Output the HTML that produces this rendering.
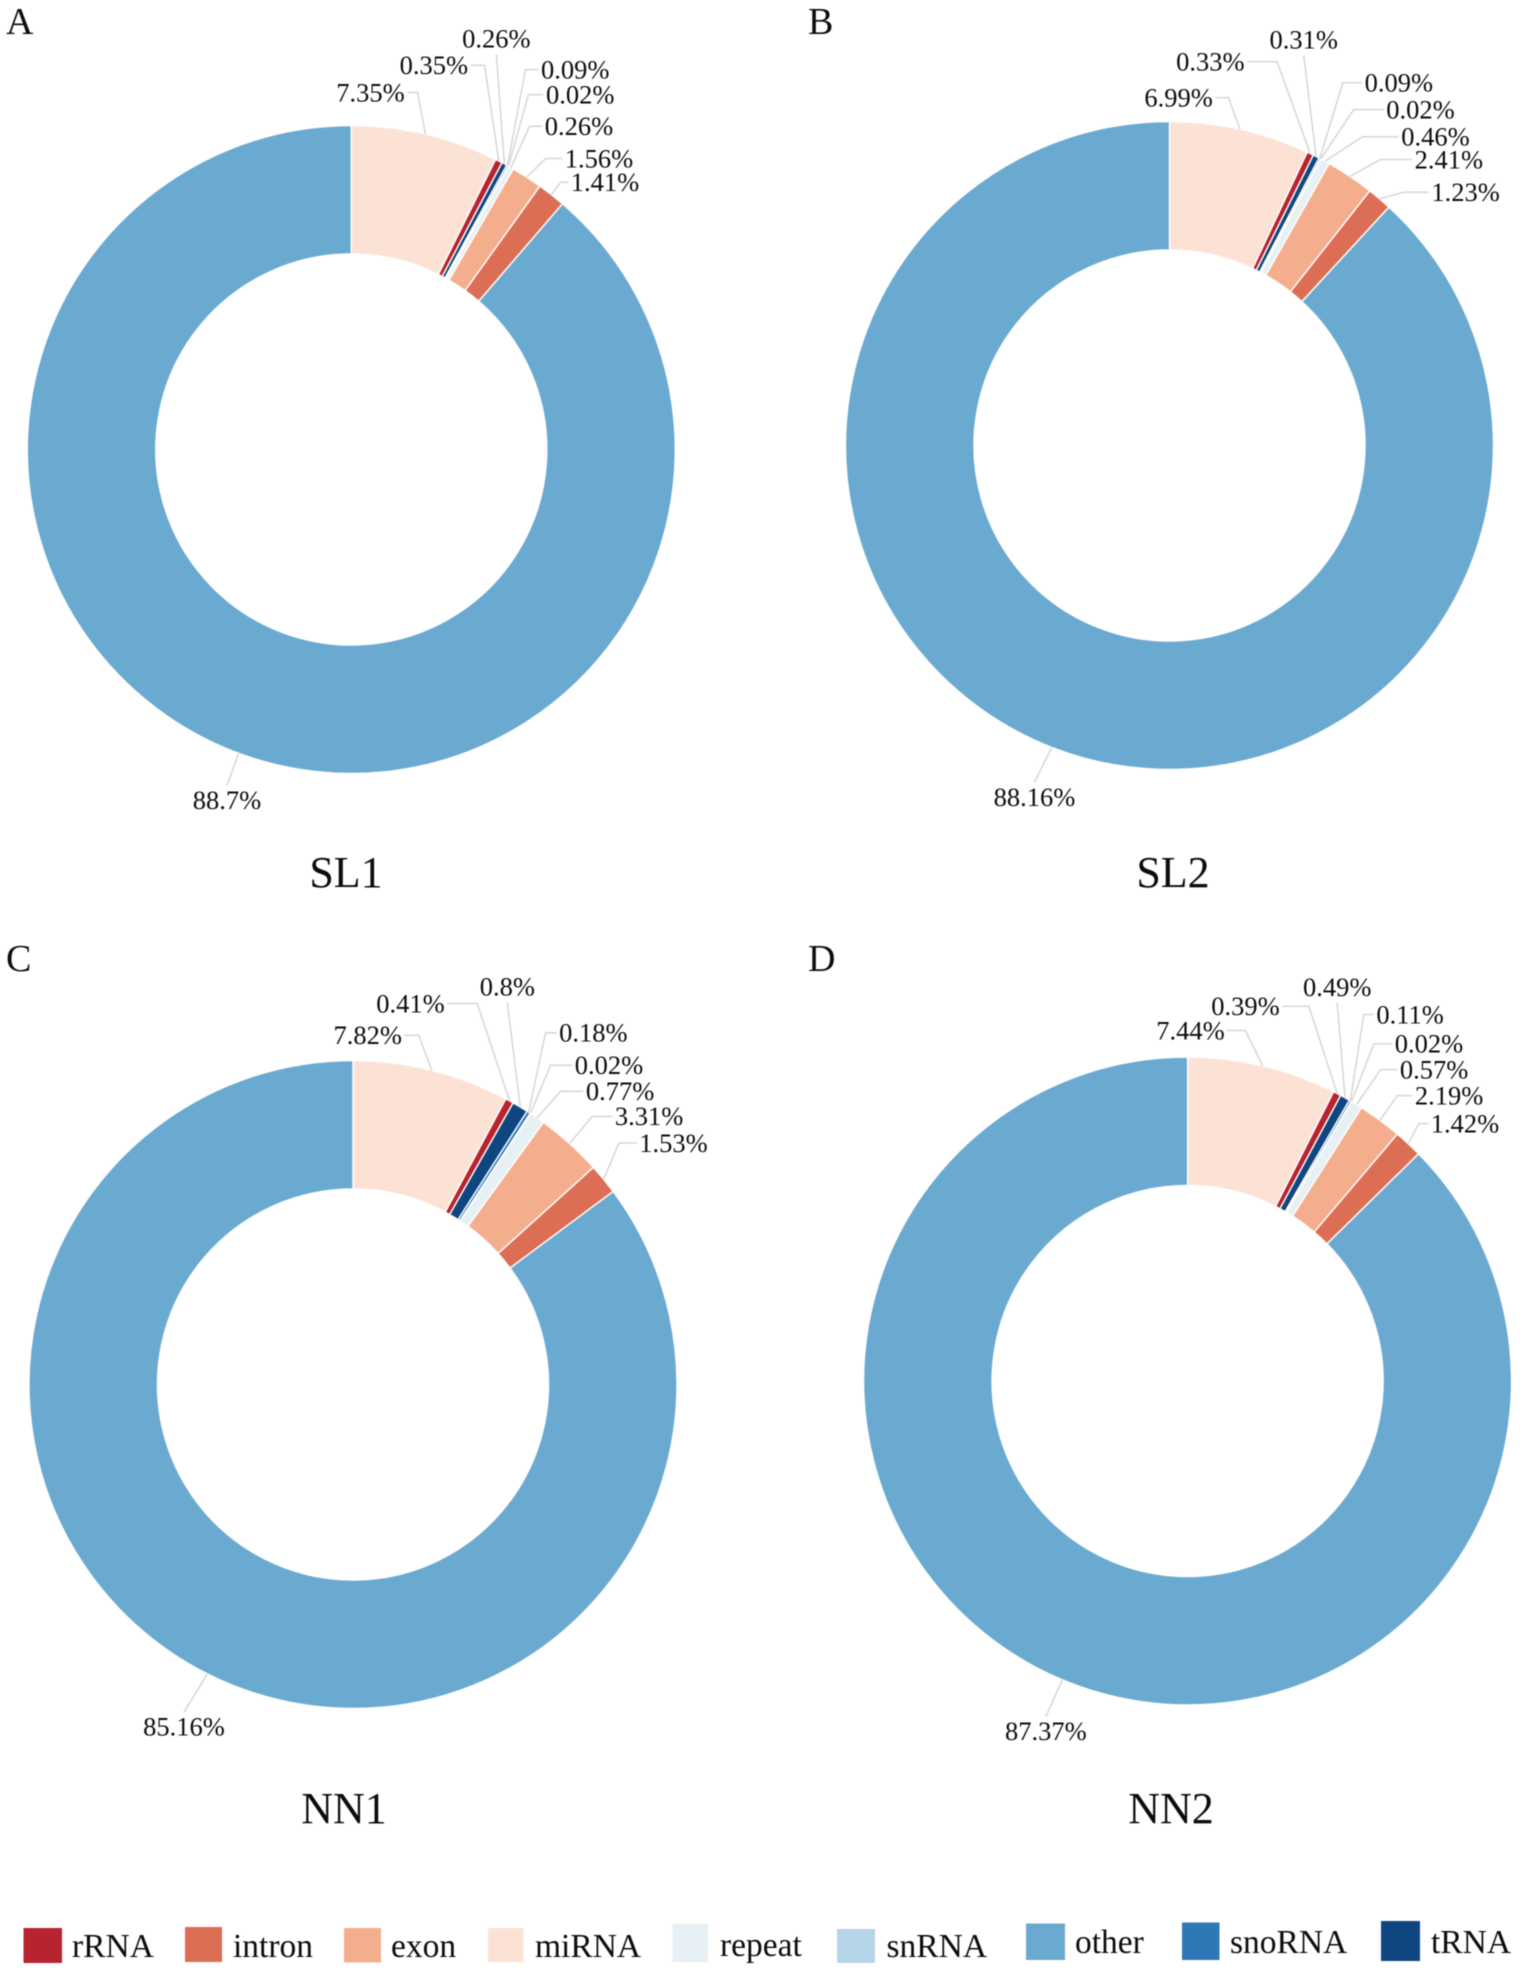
<!DOCTYPE html>
<html lang="en">
<head>
<meta charset="utf-8">
<title>Small RNA composition donut charts</title>
<style>
html,body{margin:0;padding:0;background:#fff}
svg{display:block;filter:blur(0.5px)}
text{font-family:"Liberation Serif","Times New Roman",serif;fill:#0c0c0c}
.pct{font-size:26.5px}
.panel{font-size:38px}
.sample{font-size:44px}
.lg{font-size:33.5px}
</style>
</head>
<body>
<svg id="figure" width="1535" height="1971" viewBox="0 0 1535 1971" xmlns="http://www.w3.org/2000/svg">
<rect width="1535" height="1971" fill="#ffffff"/>
<text class="panel" x="6" y="34">A</text>
<text class="panel" x="808" y="34">B</text>
<text class="panel" x="6" y="971">C</text>
<text class="panel" x="808" y="971">D</text>
<text class="sample" x="346" y="887" text-anchor="middle">SL1</text>
<text class="sample" x="1173" y="887" text-anchor="middle">SL2</text>
<text class="sample" x="344" y="1823" text-anchor="middle">NN1</text>
<text class="sample" x="1171" y="1823" text-anchor="middle">NN2</text>
<g id="charts"></g>
<g>
  <g><rect x="23.5" y="1928" width="38.5" height="35" fill="#b7232e"/><text class="lg" x="72" y="1957">rRNA</text></g>
  <g><rect x="185" y="1927" width="37" height="35" fill="#dc6e55"/><text class="lg" x="233" y="1957">intron</text></g>
  <g><rect x="344" y="1928" width="37" height="34.5" fill="#f5ae8d"/><text class="lg" x="391" y="1957">exon</text></g>
  <g><rect x="488" y="1928" width="35.5" height="34" fill="#fce2d5"/><text class="lg" x="535" y="1957">miRNA</text></g>
  <g><rect x="672.5" y="1924" width="35.5" height="38" fill="#e7f0f4"/><text class="lg" x="720" y="1956">repeat</text></g>
  <g><rect x="837" y="1929" width="38" height="34" fill="#b4d6e8"/><text class="lg" x="886.5" y="1957">snRNA</text></g>
  <g><rect x="1026" y="1923.5" width="39" height="36.5" fill="#6baad0"/><text class="lg" x="1075" y="1953">other</text></g>
  <g><rect x="1182" y="1922.5" width="37.5" height="37.5" fill="#2f78b6"/><text class="lg" x="1230" y="1953">snoRNA</text></g>
  <g><rect x="1381" y="1921" width="39" height="40" fill="#10467f"/><text class="lg" x="1431" y="1953">tRNA</text></g>
</g>
</svg>
<script>
// Slice order is clockwise from 12 o'clock.
const categories = ['miRNA', 'rRNA', 'tRNA', 'snoRNA', 'snRNA', 'repeat', 'exon', 'intron', 'other'];
const sl1Values = [7.35, 0.35, 0.26, 0.09, 0.02, 0.26, 1.56, 1.41, 88.7];
const sl2Values = [6.99, 0.33, 0.31, 0.09, 0.02, 0.46, 2.41, 1.23, 88.16];
const nn1Values = [7.82, 0.41, 0.8, 0.18, 0.02, 0.77, 3.31, 1.53, 85.16];
const nn2Values = [7.44, 0.39, 0.49, 0.11, 0.02, 0.57, 2.19, 1.42, 87.37];

const sliceColors = {miRNA:'#fce2d5', rRNA:'#b7232e', tRNA:'#10467f', snoRNA:'#2f78b6', snRNA:'#b4d6e8', repeat:'#e7f0f4', exon:'#f5ae8d', intron:'#dc6e55', other:'#6baad0'};

// Leader-line layout, relative to each slice's outer mid-point: [elbow dx, elbow dy, horizontal tail, side]
// side: -1 label left, 1 label right, 0 label centred at the end of the leader.
const sl1Leaders = [[-8,-41.6,10.3,-1],[-14.3,-95.8,14,-1],[-8,-109.4,0,0],[18,-96,13,1],[20,-71.6,15,1],[18.6,-41.3,12.7,1],[18.8,-18.6,16.7,1],[9.2,-12.4,7.7,1],[-11.7,32.2,0,0]];
const sl2Leaders = [[-11.5,-31.5,13.3,-1],[-33.2,-91.9,30,-1],[-12.4,-101,0,0],[23,-75.6,19.4,1],[33,-49.4,30,1],[37.1,-24.4,36.6,1],[30.4,-16.9,31.7,1],[24.3,-6.5,25,1],[-17.3,35,0,0]];
const nn1Leaders = [[-13.1,-35,14.3,-1],[-32.3,-97.3,30,-1],[-12.9,-104.7,0,0],[16.9,-79.4,11,1],[20.2,-48.1,21.7,1],[23.6,-26.6,22.7,1],[22.7,-27.2,20,1],[15.4,-36.1,17.7,1],[-23.4,38.2,0,0]];
const nn2Leaders = [[-17.2,-35.3,18.3,-1],[-28.3,-87.3,26.6,-1],[-7.8,-95,0,0],[13.5,-86.3,10,1],[22.4,-57.6,18.4,1],[24,-35,16.7,1],[17.4,-24.6,15,1],[10.7,-20.1,9.4,1],[-16.5,36.6,0,0]];

const charts = [
  {id:'sl1', values:sl1Values, leaders:sl1Leaders, cx:351.3, cy:449.5},
  {id:'sl2', values:sl2Values, leaders:sl2Leaders, cx:1169.5, cy:445.5},
  {id:'nn1', values:nn1Values, leaders:nn1Leaders, cx:353, cy:1384.5},
  {id:'nn2', values:nn2Values, leaders:nn2Leaders, cx:1187.6, cy:1381}
];
const outerR = 324;
const innerR = 195.5;
const NS = 'http://www.w3.org/2000/svg';

function polar(cx, cy, r, deg) {
  const a = deg * Math.PI / 180;
  return [cx + r * Math.sin(a), cy - r * Math.cos(a)];
}
function sectorPath(cx, cy, a0, a1) {
  const large = (a1 - a0) > 180 ? 1 : 0;
  const p0 = polar(cx, cy, outerR, a0), p1 = polar(cx, cy, outerR, a1);
  const p2 = polar(cx, cy, innerR, a1), p3 = polar(cx, cy, innerR, a0);
  return 'M' + p0[0] + ' ' + p0[1] + 'A' + outerR + ' ' + outerR + ' 0 ' + large + ' 1 ' + p1[0] + ' ' + p1[1] +
         'L' + p2[0] + ' ' + p2[1] + 'A' + innerR + ' ' + innerR + ' 0 ' + large + ' 0 ' + p3[0] + ' ' + p3[1] + 'Z';
}

const root = document.getElementById('charts');
charts.forEach(function (chart) {
  const group = document.createElementNS(NS, 'g');
  
  
  root.appendChild(group);
  const total = chart.values.reduce(function (s, v) { return s + v; }, 0);
  let cum = 0;
  chart.values.forEach(function (value, i) {
    const a0 = cum / total * 360;
    const a1 = (cum + value) / total * 360;
    cum += value;
    const key = categories[i];
    const slice = document.createElementNS(NS, 'path');
    
    
    slice.setAttribute('d', sectorPath(chart.cx, chart.cy, a0, a1));
    slice.setAttribute('fill', sliceColors[key]);
    slice.setAttribute('stroke', '#ffffff');
    slice.setAttribute('stroke-width', '1.4');
    slice.setAttribute('stroke-linejoin', 'round');
    group.appendChild(slice);

    const start = polar(chart.cx, chart.cy, outerR, (a0 + a1) / 2);
    const lay = chart.leaders[i];
    const ex = start[0] + lay[0];
    const ey = start[1] + lay[1];
    const tx = ex + lay[2] * lay[3];
    const line = document.createElementNS(NS, 'polyline');
    
    
    line.setAttribute('points', start[0] + ',' + start[1] + ' ' + ex + ',' + ey + ' ' + tx + ',' + ey);
    line.setAttribute('fill', 'none');
    line.setAttribute('stroke', '#d6d6d6');
    line.setAttribute('stroke-width', '1.5');
    group.appendChild(line);

    const label = document.createElementNS(NS, 'text');
    
    
    label.setAttribute('class', 'pct');
    if (lay[3] === 0) {
      label.setAttribute('x', tx);
      label.setAttribute('y', lay[1] < 0 ? ey - 7 : ey + 23.5);
      label.setAttribute('text-anchor', 'middle');
    } else {
      label.setAttribute('x', tx + lay[3] * 2.5);
      label.setAttribute('y', ey + 8.8);
      label.setAttribute('text-anchor', lay[3] < 0 ? 'end' : 'start');
    }
    label.textContent = value + '%';
    group.appendChild(label);
  });
});
</script>
</body>
</html>
